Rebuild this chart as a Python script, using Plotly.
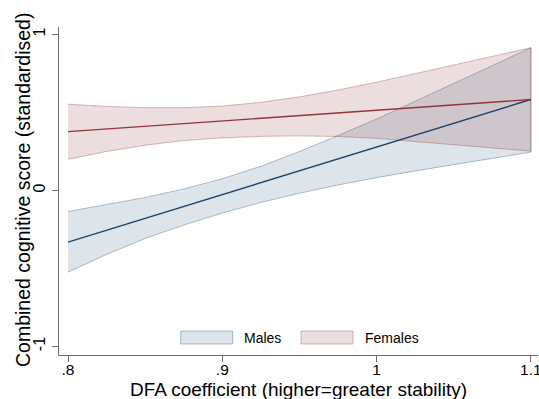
import plotly.graph_objects as go

# ---- data ----
dfa = [0.80, 0.825, 0.85, 0.875, 0.90, 0.925, 0.95, 0.975, 1.00, 1.025, 1.05, 1.075, 1.10]

male_fit = [-0.331, -0.255, -0.179, -0.102, -0.026, 0.050, 0.126, 0.202, 0.278, 0.355, 0.431, 0.507, 0.583]
male_upper = [-0.135, -0.090, -0.045, 0.010, 0.075, 0.155, 0.250, 0.352, 0.458, 0.572, 0.686, 0.800, 0.915]
male_lower = [-0.524, -0.410, -0.308, -0.222, -0.145, -0.077, -0.018, 0.035, 0.082, 0.125, 0.167, 0.207, 0.246]

female_fit = [0.377, 0.394, 0.411, 0.429, 0.446, 0.463, 0.480, 0.497, 0.514, 0.532, 0.549, 0.566, 0.583]
female_upper = [0.553, 0.539, 0.531, 0.531, 0.541, 0.565, 0.600, 0.644, 0.694, 0.749, 0.804, 0.859, 0.915]
female_lower = [0.200, 0.250, 0.290, 0.320, 0.337, 0.347, 0.350, 0.346, 0.334, 0.316, 0.294, 0.272, 0.252]

x_tickvals = [0.8, 0.9, 1.0, 1.1]
x_ticktext = [".8", ".9", "1", "1.1"]
y_tickvals = [-1, 0, 1]
y_ticktext = ["-1", "0", "1"]

series_names = ["Males", "Females"]
x_title = "DFA coefficient (higher=greater stability)"
y_title = "Combined cognitive score (standardised)"

# ---- styles ----
FONT = "Liberation Sans, Arial, Helvetica, sans-serif"
BLUE = "#1a476f"
RED = "#90353b"
BLUE_FILL = "rgba(26,71,111,0.15)"
RED_FILL = "rgba(144,53,59,0.17)"
BLUE_EDGE = "rgba(26,71,111,0.33)"
RED_EDGE = "rgba(144,53,59,0.33)"
AXIS = "#6e6e6e"

fig = go.Figure()

def band(x, up, lo, fill, edge, name):
    return go.Scatter(
        x=list(x) + list(reversed(x)),
        y=list(up) + list(reversed(lo)),
        fill="toself", fillcolor=fill, mode="lines",
        line=dict(color=edge, width=1), name=name,
        hoverinfo="skip", showlegend=False,
    )

fig.add_trace(band(dfa, male_upper, male_lower, BLUE_FILL, BLUE_EDGE, series_names[0]))
fig.add_trace(band(dfa, female_upper, female_lower, RED_FILL, RED_EDGE, series_names[1]))
fig.add_trace(go.Scatter(x=dfa, y=male_fit, mode="lines", name=series_names[0],
                         line=dict(color=BLUE, width=1.4), showlegend=False))
fig.add_trace(go.Scatter(x=dfa, y=female_fit, mode="lines", name=series_names[1],
                         line=dict(color=RED, width=1.4), showlegend=False))

# plot area geometry (pixels)
L, R, T, B = 59, 1, 27, 44
W, H = 539, 399
pw, ph = W - L - R, H - T - B

def px(xp):
    return (xp - L) / pw

def py(yp):
    return (H - B - yp) / ph

# manual Stata-like legend
legend_items = [
    (series_names[0], BLUE_FILL, BLUE_EDGE, 180.7, 232.7, 241.7),
    (series_names[1], RED_FILL, RED_EDGE, 301.0, 353.0, 362.7),
]
for name, fill, edge, x0, x1, tx in legend_items:
    fig.add_shape(type="rect", xref="paper", yref="paper",
                  x0=px(x0), x1=px(x1), y0=py(344), y1=py(331),
                  fillcolor=fill, line=dict(color=edge, width=1))
    fig.add_annotation(xref="paper", yref="paper", x=px(tx), y=py(338),
                       text=name, showarrow=False, xanchor="left", yanchor="middle",
                       font=dict(family=FONT, size=14, color="black"))

# axis titles
fig.add_annotation(xref="paper", yref="paper", x=0.5, y=py(389),
                   text=x_title, showarrow=False, xanchor="center", yanchor="middle",
                   font=dict(family=FONT, size=19, color="black"))
fig.add_annotation(xref="paper", yref="paper", x=px(23), y=py(190),
                   text=y_title, showarrow=False, xanchor="center", yanchor="middle",
                   textangle=-90,
                   font=dict(family=FONT, size=19.5, color="black"))

fig.update_layout(
    width=W, height=H,
    margin=dict(l=L, r=R, t=T, b=B, autoexpand=False),
    paper_bgcolor="white", plot_bgcolor="white",
    font=dict(family=FONT, color="black"),
    showlegend=False,
    xaxis=dict(
        range=[0.79417, 1.1046], tickvals=x_tickvals, ticktext=x_ticktext,
        automargin=False,
        showgrid=False, zeroline=False, showline=True, linecolor=AXIS, linewidth=1.3,
        ticks="outside", ticklen=6, tickcolor=AXIS, tickwidth=1,
        ticklabeloverflow="allow", ticklabelstandoff=-6,
        tickfont=dict(family=FONT, size=15.5, color="black"),
    ),
    yaxis=dict(
        range=[-1.055, 1.048], tickvals=y_tickvals, ticktext=y_ticktext, tickangle=-90,
        automargin=False,
        showgrid=False, zeroline=False, showline=True, linecolor=AXIS, linewidth=1.3,
        ticks="outside", ticklen=6, tickcolor=AXIS, tickwidth=1,
        tickfont=dict(family=FONT, size=16, color="black"),
    ),
)

fig.write_html("out.html")
